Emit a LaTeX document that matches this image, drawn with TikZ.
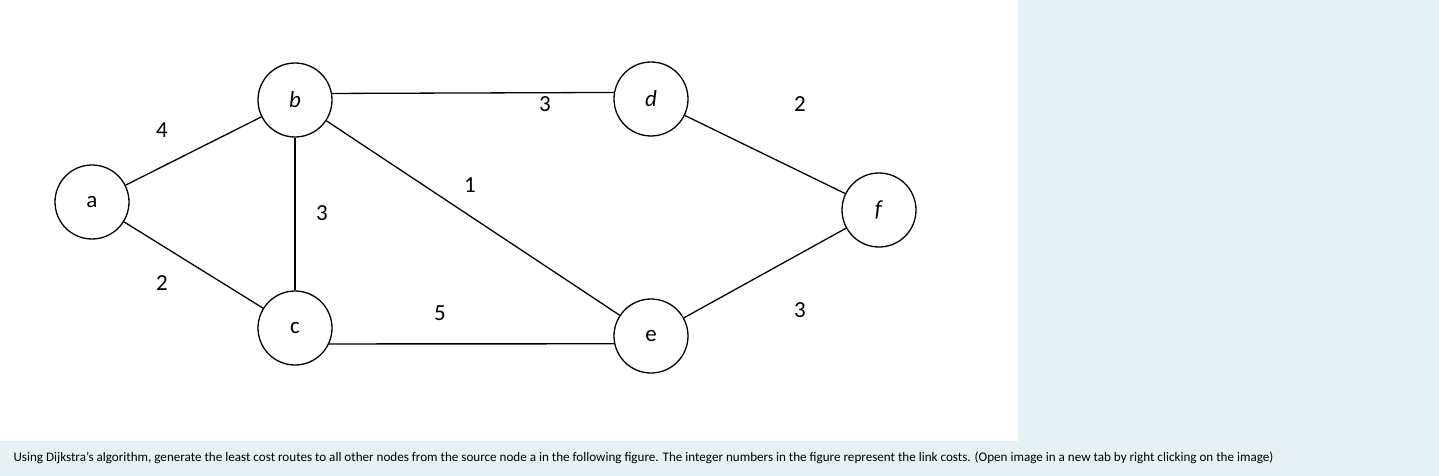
\documentclass[tikz,border=0pt]{standalone}
\usepackage{fontspec}
\setmainfont{Carlito}
\definecolor{bgc}{HTML}{E7F1F4}
\begin{document}
\begin{tikzpicture}[x=1pt,y=-1pt,
  vert/.style={circle,draw,line width=1.3pt,minimum size=74pt,inner sep=0pt,font=\fontsize{23}{25}\selectfont},
  lbl/.style={font=\fontsize{23}{25}\selectfont},
  edge/.style={line width=1.3pt}]
\fill[bgc] (0,0) rectangle (1439,476);
\fill[white] (0,0) rectangle (1018,441);
\node[vert] (a) at (92,202) {a};
\node[vert] (b) at (295,100) {\textit{b}};
\node[vert] (c) at (295,328) {c};
\node[vert] (d) at (651,99) {\textit{d}};
\node[vert] (e) at (651,336) {e};
\node[vert] (f) at (879,210) {\textit{f}};
\draw[edge] (a) -- (b);
\draw[edge] (a) -- (c);
\draw[edge] (b) -- (c);
\draw[edge] (b.10) -- (d.170);
\draw[edge] (b) -- (e);
\draw[edge] (c.-25) -- (e.192);
\draw[edge] (d) -- (f);
\draw[edge] (e) -- (f);
\node[lbl] (l1) at (162,130) {4};
\node[lbl] (l2) at (162,283) {2};
\node[lbl] (l3) at (322,213) {3};
\node[lbl] (l4) at (470,185) {1};
\node[lbl] (l5) at (545,104) {3};
\node[lbl] (l6) at (800,104) {2};
\node[lbl] (l7) at (440,313) {5};
\node[lbl] (l8) at (800,310) {3};
\node[anchor=west,font=\fontsize{13.1}{15}\selectfont] (cap) at (10,458) {Using Dijkstra's algorithm, generate the least cost routes to all other nodes from the source node a in the following figure. The integer numbers in the figure represent the link costs. (Open image in a new tab by right clicking on the image)};
\end{tikzpicture}
\end{document}
